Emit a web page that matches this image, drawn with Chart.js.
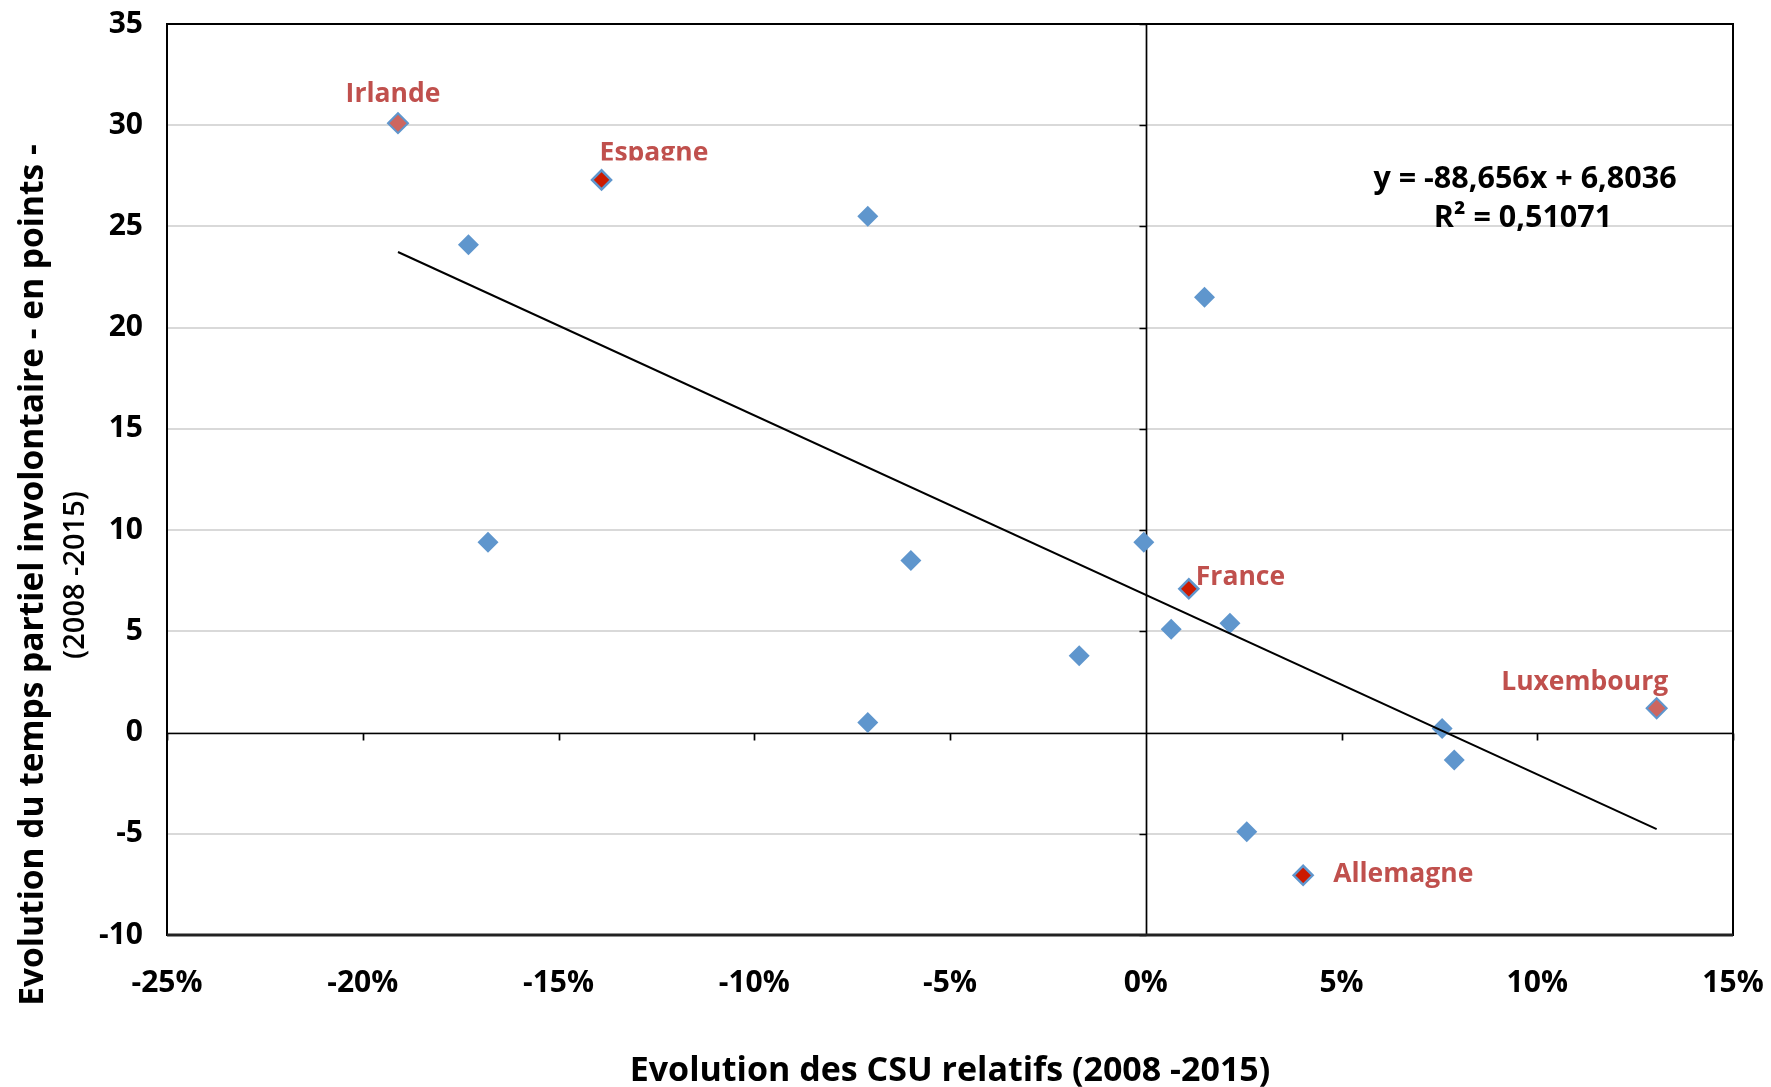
<!DOCTYPE html>
<html><head><meta charset="utf-8">
<script src="https://cdn.jsdelivr.net/npm/chart.js@4.4.1/dist/chart.umd.min.js"></script>
<style>html,body{margin:0;padding:0;background:#fff}#wrap{width:1771px;height:1087px}</style>
</head><body><div id="wrap"><canvas id="c" width="1771" height="1087"></canvas></div>
<script>
// ---- data ----
const countryLabels = ["Irlande","Espagne","","","","","","","France","","","","","","Luxembourg","","","Allemagne"];
const csuEvolutionPct = [-19.1,-13.9,-17.3,-7.1,1.5,-16.8,-6.0,-0.05,1.1,0.65,2.15,-1.7,-7.1,7.57,13.05,7.88,2.58,4.02];
const partTimeEvolution = [30.1,27.3,24.1,25.5,21.5,9.4,8.5,9.4,7.1,5.1,5.4,3.8,0.5,0.2,1.2,-1.35,-4.9,-7.05];
const markerKind = ["light","red","blue","blue","blue","blue","blue","blue","red","blue","blue","blue","blue","blue","light","blue","blue","red"];
const xTickValues = [-25,-20,-15,-10,-5,0,5,10,15];
const yTickValues = [-10,-5,0,5,10,15,20,25,30,35];
const trendSlope = -88.656;   // per unit fraction
const trendIntercept = 6.8036;
const trendR2 = "0,51071";
const equationLines = ["y = -88,656x + 6,8036", "R² = " + trendR2];
const xTitle = "Evolution des CSU relatifs (2008 -2015)";
const yTitleLines = ["Evolution du temps partiel involontaire - en points -", "(2008 -2015)"];

// ---- styles ----
const FONT = "'Open Sans', 'DejaVu Sans', sans-serif";
const BLUE = "#5f96cd";
const LABEL_RED = "#c0504d";
const fillFor = {blue: BLUE, light: "#cd6660", red: "#cc1a00"};
const borderFor = {blue: BLUE, light: BLUE, red: BLUE};
const bwFor = {blue: 0, light: 2, red: 2.5};
const radFor = {blue: 10.5, light: 10, red: 9.5};
const labelOffsets = {
  "Irlande": {dx: -5, dy: -29, align: "center"},
  "Espagne": {dx: -2, dy: -26, align: "left", clipAbove: 19.5},
  "France": {dx: 7, dy: -11, align: "left"},
  "Luxembourg": {dx: -72, dy: -26, align: "center"},
  "Allemagne": {dx: 30, dy: -1, align: "left"}
};

const points = csuEvolutionPct.map((x, i) => ({x: x, y: partTimeEvolution[i]}));
const xMinData = Math.min(...csuEvolutionPct), xMaxData = Math.max(...csuEvolutionPct);
const trendPts = [xMinData, xMaxData].map(x => ({x: x, y: trendSlope * x / 100 + trendIntercept}));

function zeroPad(s) { s.paddingTop = 0; s.paddingBottom = 0; s.paddingLeft = 0; s.paddingRight = 0; }

const framePlugin = {
  id: 'frame',
  beforeDatasetsDraw(chart) {
    const {ctx, chartArea: a, scales: {x, y}} = chart;
    ctx.save();
    ctx.strokeStyle = '#000';
    const x0 = Math.round(x.getPixelForValue(0)) + 0.5;
    const y0 = Math.round(y.getPixelForValue(0)) + 0.5;
    ctx.lineWidth = 1.7;
    ctx.beginPath();
    ctx.moveTo(x0, a.top); ctx.lineTo(x0, a.bottom);
    ctx.moveTo(a.left, y0); ctx.lineTo(a.right, y0);
    yTickValues.forEach(v => { const py = Math.round(y.getPixelForValue(v)) + 0.5; ctx.moveTo(x0 - 7, py); ctx.lineTo(x0, py); });
    xTickValues.forEach(v => { const px = Math.round(x.getPixelForValue(v)) + 0.5; ctx.moveTo(px, y0); ctx.lineTo(px, y0 + 7); });
    ctx.stroke();
    ctx.lineWidth = 2;
    ctx.strokeRect(a.left, a.top, a.right - a.left, a.bottom - a.top);
    ctx.beginPath(); ctx.lineWidth = 3; ctx.strokeStyle = '#222';
    ctx.moveTo(a.left, a.bottom); ctx.lineTo(a.right, a.bottom); ctx.stroke();
    ctx.restore();
  },
  afterDraw(chart) {
    const {ctx, chartArea: a, scales: {x, y}} = chart;
    ctx.save();
    ctx.fillStyle = LABEL_RED;
    ctx.font = "bold 26.5px " + FONT;
    ctx.textBaseline = 'middle';
    countryLabels.forEach((name, i) => {
      if (!name) return;
      const o = labelOffsets[name];
      const px = x.getPixelForValue(csuEvolutionPct[i]);
      const py = y.getPixelForValue(partTimeEvolution[i]);
      ctx.save();
      if (o.clipAbove) { ctx.beginPath(); ctx.rect(0, 0, 1771, py - o.clipAbove); ctx.clip(); }
      ctx.textAlign = o.align;
      ctx.fillText(name, px + o.dx, py + o.dy);
      ctx.restore();
    });
    ctx.fillStyle = '#000';
    ctx.textAlign = 'center';
    ctx.font = "bold 30.5px " + FONT;
    ctx.fillText(equationLines[0], 1525, 179);
    ctx.fillText(equationLines[1], 1523, 218);
    ctx.font = "bold 34px " + FONT;
    ctx.fillText(xTitle, (a.left + a.right) / 2, 1071);
    ctx.translate(33, 575);
    ctx.rotate(-Math.PI / 2);
    ctx.font = "bold 33.5px " + FONT;
    ctx.fillText(yTitleLines[0], 0, 0);
    ctx.font = "600 29px " + FONT;
    ctx.fillText(yTitleLines[1], 0, 43);
    ctx.restore();
  }
};

new Chart(document.getElementById('c'), {
  data: {
    datasets: [
      {
        type: 'line', data: trendPts, borderColor: '#000', borderWidth: 2,
        pointRadius: 0, fill: false, order: 0, tension: 0
      },
      {
        type: 'scatter', data: points, order: 1,
        pointStyle: 'rectRot',
        pointRadius: markerKind.map(k => radFor[k]),
        pointHoverRadius: markerKind.map(k => radFor[k]),
        pointBackgroundColor: markerKind.map(k => fillFor[k]),
        pointBorderColor: markerKind.map(k => borderFor[k]),
        pointBorderWidth: markerKind.map(k => bwFor[k])
      }
    ]
  },
  options: {
    responsive: false, animation: false,
    layout: {autoPadding: false, padding: {top: 24, right: 38, left: 0, bottom: 0}},
    plugins: {legend: {display: false}, tooltip: {enabled: false}},
    events: [],
    scales: {
      x: {
        type: 'linear', min: -25, max: 15,
        afterFit(s) { s.height = 152; zeroPad(s); },
        afterBuildTicks(s) { s.ticks = xTickValues.map(v => ({value: v})); },
        grid: {display: false, drawTicks: false},
        border: {display: false},
        ticks: {
          padding: 30, color: '#000', maxRotation: 0, autoSkip: false,
          font: {family: FONT, size: 30, weight: 'bold'},
          callback: v => Math.round(v) + '%'
        }
      },
      y: {
        type: 'linear', min: -10, max: 35,
        afterFit(s) { s.width = 167; zeroPad(s); },
        afterBuildTicks(s) { s.ticks = yTickValues.map(v => ({value: v})); },
        grid: {color: '#d9d9d9', lineWidth: 2, drawTicks: false},
        border: {display: false},
        ticks: {
          padding: 24, color: '#000', autoSkip: false,
          font: {family: FONT, size: 30, weight: 'bold'}
        }
      }
    }
  },
  plugins: [framePlugin]
});
</script>
</body></html>
